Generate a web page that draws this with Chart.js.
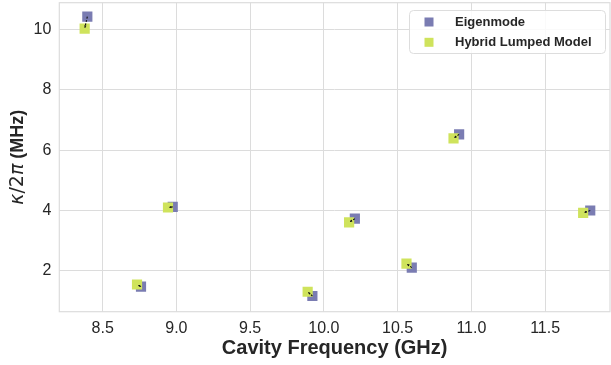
<!DOCTYPE html>
<html>
<head>
<meta charset="utf-8">
<script src="https://cdn.jsdelivr.net/npm/chart.js@4/dist/chart.umd.min.js"></script>
<style>
  html, body { margin: 0; padding: 0; background: #ffffff; }
  #wrap { width: 611px; height: 365px; }
</style>
</head>
<body>
<div id="wrap"><canvas id="c" width="611" height="365"></canvas></div>
<script>
// ---- data ----
const seriesNames = ["Eigenmode", "Hybrid Lumped Model"];
const freqEigen  = [8.396, 8.760, 8.975, 9.922, 10.210, 10.596, 10.917, 11.806];
const kappaEigen = [10.42, 1.48, 4.12, 1.17, 3.73, 2.11, 6.52, 4.00];
const freqHybrid  = [8.378, 8.733, 8.943, 9.890, 10.171, 10.560, 10.879, 11.758];
const kappaHybrid = [10.02, 1.55, 4.10, 1.31, 3.61, 2.24, 6.39, 3.92];
const xTicks = [8.5, 9.0, 9.5, 10.0, 10.5, 11.0, 11.5];
const yTicks = [2, 4, 6, 8, 10];
const xTitle = "Cavity Frequency (GHz)";
const yTitleMath = ["κ", "/2", "π"];
const yTitleUnit = " (MHz)";

const colEigen = "#7a7cb2";
const colHybrid = "#cfe35c";
const gridCol = "#dcdcdc";
const textCol = "#262626";
const sansFam = "'Liberation Sans', Arial, sans-serif";

const toPts = (xs, ys) => xs.map((x, i) => ({ x: x, y: ys[i] }));

const framePlugin = {
  id: 'frame',
  beforeDatasetsDraw(chart) {
    const a = chart.chartArea, ctx = chart.ctx;
    ctx.save();
    ctx.strokeStyle = gridCol;
    ctx.lineWidth = 1.2;
    ctx.strokeRect(a.left, a.top, a.right - a.left, a.bottom - a.top);
    ctx.restore();
  }
};

const arrowPlugin = {
  id: 'arrows',
  afterDatasetsDraw(chart) {
    const ctx = chart.ctx, xs = chart.scales.x, ys = chart.scales.y;
    ctx.save();
    ctx.strokeStyle = "#111";
    ctx.fillStyle = "#111";
    ctx.lineWidth = 1.1;
    for (let i = 0; i < freqEigen.length; i++) {
      const x0 = xs.getPixelForValue(freqEigen[i]), y0 = ys.getPixelForValue(kappaEigen[i]);
      const x1 = xs.getPixelForValue(freqHybrid[i]), y1 = ys.getPixelForValue(kappaHybrid[i]);
      const ang = Math.atan2(y1 - y0, x1 - x0);
      const len = Math.hypot(x1 - x0, y1 - y0);
      const ex = x0 + Math.cos(ang) * (len - 1), ey = y0 + Math.sin(ang) * (len - 1);
      ctx.setLineDash([2, 1.5]);
      ctx.beginPath();
      ctx.moveTo(x0, y0);
      ctx.lineTo(ex, ey);
      ctx.stroke();
      ctx.setLineDash([]);
      const h = 2.5;
      ctx.beginPath();
      ctx.moveTo(ex, ey);
      ctx.lineTo(ex - h * Math.cos(ang - 0.5), ey - h * Math.sin(ang - 0.5));
      ctx.lineTo(ex - h * Math.cos(ang + 0.5), ey - h * Math.sin(ang + 0.5));
      ctx.closePath();
      ctx.fill();
    }
    ctx.restore();
  }
};

const titlesPlugin = {
  id: 'titles',
  afterDraw(chart) {
    const ctx = chart.ctx, a = chart.chartArea;
    ctx.save();
    ctx.fillStyle = textCol;
    // x title
    ctx.font = "bold 20px " + sansFam;
    ctx.textAlign = "center";
    ctx.textBaseline = "middle";
    ctx.fillText(xTitle, (a.left + a.right) / 2, 348);
    // y title (rotated)
    const fonts = ["italic 19px 'DejaVu Sans'", "19px 'DejaVu Sans'", "italic 19px 'DejaVu Sans'", "bold 18px " + sansFam];
    const parts = yTitleMath.concat([yTitleUnit]);
    let total = 0;
    const widths = parts.map((p, i) => { ctx.font = fonts[i]; const w = ctx.measureText(p).width; total += w; return w; });
    ctx.translate(18, (a.top + a.bottom) / 2);
    ctx.rotate(-Math.PI / 2);
    ctx.textAlign = "left";
    ctx.textBaseline = "middle";
    let x = -total / 2;
    parts.forEach((p, i) => { ctx.font = fonts[i]; ctx.fillText(p, x, 0); x += widths[i]; });
    ctx.restore();

    // legend
    const lx = 409, ly = 10, lw = 196, lh = 43;
    ctx.save();
    ctx.fillStyle = "rgba(255,255,255,0.85)";
    ctx.strokeStyle = "#dddddd";
    ctx.lineWidth = 1;
    ctx.beginPath();
    ctx.roundRect(lx + 0.5, ly + 0.5, lw, lh, 4);
    ctx.fill();
    ctx.stroke();
    const cols = [colEigen, colHybrid];
    ctx.font = "bold 13px " + sansFam;
    ctx.textBaseline = "middle";
    ctx.textAlign = "left";
    seriesNames.forEach((n, i) => {
      const cy = 22 + i * 20.3;
      ctx.fillStyle = cols[i];
      ctx.fillRect(424.5, cy - 4.5, 9, 9);
      ctx.fillStyle = textCol;
      ctx.fillText(n, 455, cy + 0.5);
    });
    ctx.restore();
  }
};

function zeroPad(s) { s.paddingTop = 0; s.paddingBottom = 0; s.paddingLeft = 0; s.paddingRight = 0; }

new Chart(document.getElementById('c'), {
  type: 'scatter',
  data: {
    datasets: [
      { label: seriesNames[0], data: toPts(freqEigen, kappaEigen), backgroundColor: colEigen,
        borderWidth: 0, pointStyle: 'rect', pointRadius: 7.2, pointHoverRadius: 7.2, order: 2 },
      { label: seriesNames[1], data: toPts(freqHybrid, kappaHybrid), backgroundColor: colHybrid,
        borderWidth: 0, pointStyle: 'rect', pointRadius: 7.2, pointHoverRadius: 7.2, order: 1 }
    ]
  },
  options: {
    responsive: false,
    devicePixelRatio: 1,
    animation: false,
    layout: { autoPadding: false, padding: { top: 2.7, right: 1, left: 0, bottom: 0 } },
    plugins: { legend: { display: false }, tooltip: { enabled: false } },
    scales: {
      x: {
        type: 'linear', min: 8.206, max: 11.94,
        afterBuildTicks(s) { s.ticks = xTicks.map(v => ({ value: v })); },
        afterFit(s) { s.height = 53.3; zeroPad(s); },
        grid: { color: gridCol, lineWidth: 1, drawTicks: false },
        border: { display: false },
        ticks: { color: textCol, padding: 7, font: { family: sansFam, size: 16 },
                 callback: v => Number(v).toFixed(1) }
      },
      y: {
        type: 'linear', min: 0.65, max: 10.88,
        afterBuildTicks(s) { s.ticks = yTicks.map(v => ({ value: v })); },
        afterFit(s) { s.width = 59.3; zeroPad(s); },
        grid: { color: gridCol, lineWidth: 1, drawTicks: false },
        border: { display: false },
        ticks: { color: textCol, padding: 8, font: { family: sansFam, size: 16, lineHeight: 0.3 },
                 callback: v => String(v) }
      }
    }
  },
  plugins: [framePlugin, arrowPlugin, titlesPlugin]
});
</script>
</body>
</html>
